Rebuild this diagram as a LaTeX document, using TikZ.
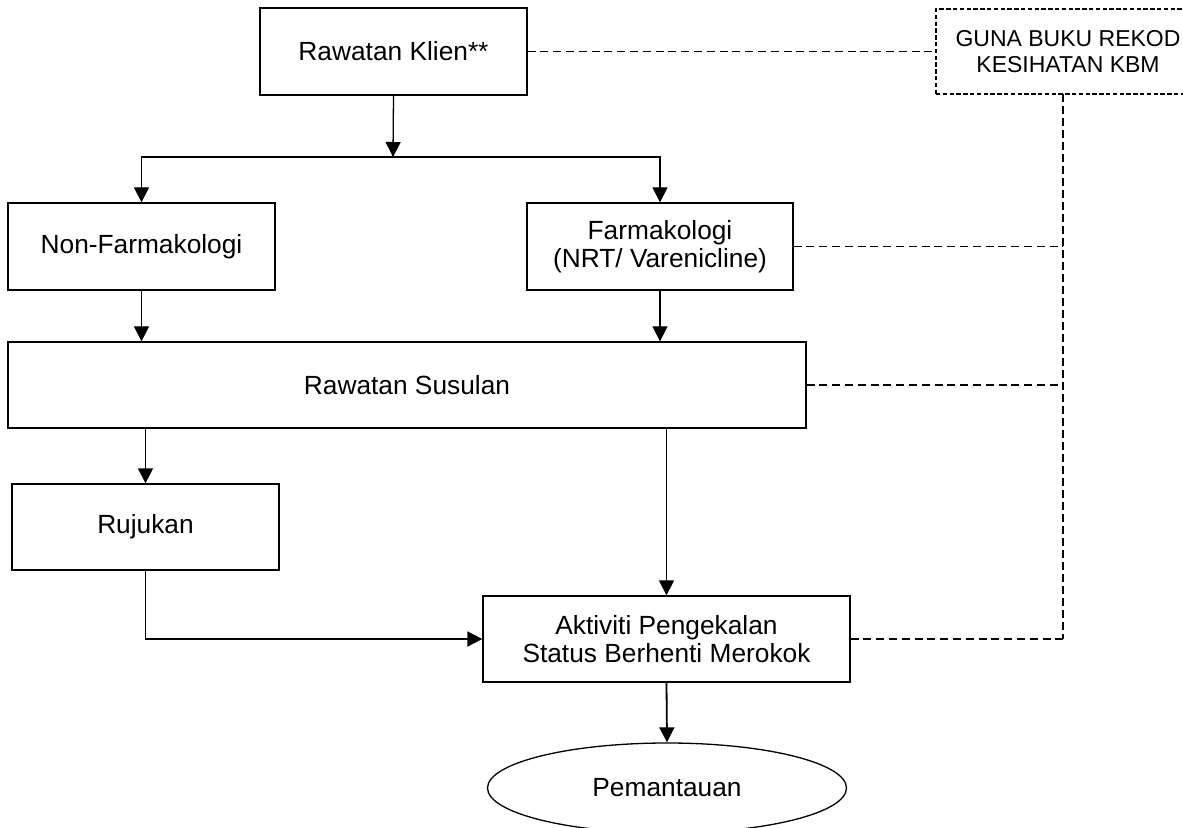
\documentclass[tikz,border=0pt]{standalone}
\usepackage{fontspec}
\setmainfont{Liberation Sans}
\usetikzlibrary{arrows.meta,shapes.geometric}
\begin{document}
\begin{tikzpicture}[x=0.5pt,y=-0.5pt,
  box/.style={draw,line width=0.65pt,rectangle,inner sep=0pt,align=center,
    font=\fontsize{13.15}{14.2}\selectfont},
  notebox/.style={draw,dashed,dash pattern=on 2.2pt off 1.2pt,line width=0.6pt,
    rectangle,inner sep=0pt,align=center,font=\fontsize{11.5}{13.3}\selectfont},
  arr/.style={line width=0.65pt,-{Triangle[length=7.5pt,width=7.5pt]}},
  thickarr/.style={line width=0.9pt,-{Triangle[length=7.5pt,width=7.5pt]}},
  link/.style={line width=0.95pt,dash pattern=on 4pt off 2.4pt},
  bus/.style={line width=1.3pt,dash pattern=on 4pt off 2pt}]
\useasboundingbox (0,0) rectangle (1183,828);

% boxes
\node[box,minimum width=267*0.5pt,minimum height=87*0.5pt] (rk) at (393.5,51.5) {Rawatan Klien**};
\node[notebox,minimum width=264*0.5pt,minimum height=85*0.5pt] (guna) at (1068,51.5) {GUNA BUKU REKOD\\KESIHATAN KBM};
\node[box,minimum width=267*0.5pt,minimum height=87*0.5pt] (nonf) at (141.5,246.5) {Non-Farmakologi};
\node[box,minimum width=266*0.5pt,minimum height=87*0.5pt] (farm) at (660,246.5) {Farmakologi\\(NRT/ Varenicline)};
\node[box,minimum width=798*0.5pt,minimum height=86*0.5pt] (sus) at (407,385) {Rawatan Susulan};
\node[box,minimum width=267*0.5pt,minimum height=86*0.5pt] (ruj) at (145.5,527) {Rujukan};
\node[box,minimum width=367*0.5pt,minimum height=86*0.5pt] (akt) at (666.5,639) {Aktiviti Pengekalan\\Status Berhenti Merokok};
\node[draw,ellipse,line width=0.65pt,inner sep=0pt,minimum width=359*0.5pt,minimum height=90*0.5pt,
  font=\fontsize{13.15}{14.2}\selectfont] (pem) at (667,788) {Pemantauan};

% split point under the first box
\coordinate (j) at (393,157);

% solid flow
\draw[arr] (rk.south) -- (j);
\draw[arr] (j) -| (nonf.north);
\draw[arr] (j) -| (farm.north);
\draw[arr] (nonf.south) -- (nonf.south |- sus.north);
\draw[arr] (farm.south) -- (farm.south |- sus.north);
\draw[arr] (ruj.north |- sus.south) -- (ruj.north);
\draw[arr] (akt.north |- sus.south) -- (akt.north);
\draw[thickarr] (ruj.south) |- (akt.west);
\draw[thickarr] (akt.south) -- (pem.north);

% dashed record links
\coordinate (busx) at (1063,94);
\coordinate (busend) at (busx |- akt.east);
\draw[link] (rk.east) -- (guna.west);
\draw[bus] (busx) -- (busend);
\draw[link] (farm.east) -- (busx |- farm.east);
\draw[link] (sus.east) -- (busx |- sus.east);
\draw[link] (akt.east) -- (busend);
\end{tikzpicture}
\end{document}
